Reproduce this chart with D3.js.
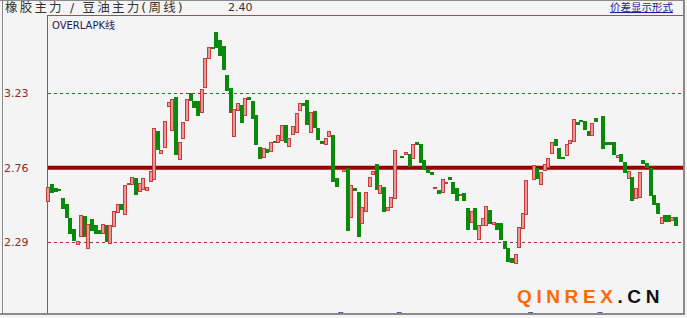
<!DOCTYPE html>
<meta charset="utf-8">
<style>
body { margin: 0; background: #f4f4f4; }
svg { display: block; font-family: "DejaVu Sans", "Noto Sans CJK SC", sans-serif; }
</style>
<body>
<svg id="chart" width="687" height="318"></svg>
</body>
<script src="https://cdn.jsdelivr.net/npm/d3@7/dist/d3.min.js"></script>
<script>
// weekly spread (rubber / soybean oil), one entry per week, null = no bar
var opens = [
  2.550, 2.655, 2.634, 2.627, 2.571, 2.529, 2.444, 2.377, 2.283, 2.331,
  2.457, 2.255, 2.440, 2.398, 2.367, 2.346, 2.398, 2.283, 2.394, 2.482,
  2.531, 2.465, 2.655, 2.655, 2.693, 2.615, 2.625, 2.619, 2.678, 2.693,
  2.993, 2.855, 2.892, 3.149, 2.998, 3.208, 2.815, 2.945, 3.061, 3.235,
  3.181, 3.181, 3.109, 3.267, 3.450, 3.519, 3.618, 3.565, 3.530, 3.345,
  3.265, 2.962, 3.120, 3.155, 3.092, 3.208, 3.181, 3.092, 2.892, 2.823,
  2.876, 2.865, 2.932, 2.924, 2.934, 3.033, 2.899, 2.970, 2.983, 3.124,
  3.166, 3.187, 2.983, 3.117, 3.014, 2.928, 2.909, 2.960, 2.970, 2.693,
  null,  2.739, 2.760, 2.451, 2.634, 2.609, 2.415, 2.489, 2.646, 2.718,
  2.781, 2.598, 2.640, 2.497, 2.514, 2.566, null,  2.836, 2.844, 2.844,
  2.819, 2.920, 2.907, 2.808, 2.752, 2.735, 2.634, 2.623, 2.609, 2.663,
  2.703, 2.672, 2.634, 2.585, 2.602, 2.508, 2.419, 2.508, 2.308, 2.398,
  2.398, 2.493, 2.402, 2.413, 2.413, 2.297, 2.257, 2.188, 2.163, 2.262,
  2.384, 2.472, null,  2.688, 2.756, 2.661, 2.752, 2.766, 2.857, 2.939,
  2.886, 2.825, 2.844, 2.913, 2.924, 3.050, 3.063, 3.056, 2.993, 2.966,
  3.077, null,  3.086, 2.924, 2.924, 2.924, 2.829, 2.850, 2.798, 2.697,
  2.703, 2.573, 2.577, 2.812, 2.791, 2.760, 2.587, 2.535, 2.415, 2.465,
  2.461, 2.426, 2.447
];
var closes = [
  2.636, 2.602, 2.615, 2.621, 2.508, 2.444, 2.352, 2.310, 2.299, 2.461,
  2.331, 2.405, 2.373, 2.346, 2.346, 2.405, 2.297, 2.398, 2.487, 2.531,
  2.497, 2.651, 2.661, 2.701, 2.594, 2.667, 2.693, 2.640, 2.741, 3.014,
  2.878, 2.871, 3.056, 3.172, 3.193, 2.850, 2.924, 3.046, 3.193, 3.191,
  3.145, 3.092, 3.254, 3.450, 3.519, 3.513, 3.523, 3.471, 3.387, 3.250,
  3.113, 3.134, 3.166, 3.050, 3.202, 3.193, 3.075, 2.907, 2.823, 2.882,
  2.855, 2.924, 2.924, 2.966, 3.029, 2.924, 2.949, 3.023, 3.103, 3.166,
  3.151, 3.035, 3.109, 3.019, 2.945, 2.913, 2.945, 2.991, 2.682, 2.640,
  null,  2.752, 2.371, 2.651, 2.623, 2.331, 2.514, 2.609, 2.703, 2.739,
  2.623, 2.651, 2.487, 2.514, 2.577, 2.871, null,  2.827, 2.857, 2.766,
  2.909, 2.907, 2.794, 2.752, 2.731, 2.724, 2.640, 2.604, 2.688, 2.672,
  2.688, 2.604, 2.556, 2.594, 2.556, 2.377, 2.489, 2.373, 2.398, 2.444,
  2.518, 2.409, 2.415, 2.373, 2.314, 2.251, 2.177, 2.161, 2.219, 2.388,
  2.478, 2.686, null,  2.777, 2.693, 2.735, 2.787, 2.823, 2.924, 2.899,
  2.825, 2.819, 2.913, 2.934, 3.065, 3.035, 3.056, 3.004, 2.970, 3.040,
  3.061, null,  2.882, 2.913, 2.913, 2.850, 2.840, 2.808, 2.735, 2.741,
  2.556, 2.634, 2.735, 2.791, 2.766, 2.592, 2.529, 2.472, 2.451, 2.430,
  2.426, 2.447, 2.394
];
var yTicks = [2.29, 2.76, 3.23];
var midLevel = 2.76;
var title = "橡胶主力 / 豆油主力(周线)";
var lastValue = "2.40";
var panelName = "OVERLAPK线";
var linkText = "价差显示形式";

var svg = d3.select("#chart");

var x = d3.scaleLinear().domain([0, opens.length - 1]).range([48.3, 676.1]);
var y = d3.scaleLinear().domain([2.29, 3.23]).range([242.3, 93.3]);

// frame
svg.append("rect").attr("width", 687).attr("height", 318).attr("fill", "#f4f4f4");
svg.append("line").attr("x1", 0).attr("x2", 685).attr("y1", 0.5).attr("y2", 0.5)
  .attr("stroke", "#8a8a8a").attr("stroke-width", 1);
svg.append("line").attr("x1", 2.5).attr("x2", 2.5).attr("y1", 0).attr("y2", 315)
  .attr("stroke", "#8a8a8a").attr("stroke-width", 1);
svg.append("line").attr("x1", 0).attr("x2", 685).attr("y1", 314).attr("y2", 314)
  .attr("stroke", "#8a8a8a").attr("stroke-width", 2);
svg.append("line").attr("x1", 684).attr("x2", 684).attr("y1", 0).attr("y2", 315)
  .attr("stroke", "#8a8a8a").attr("stroke-width", 2);

// panel box
svg.append("line").attr("x1", 47.5).attr("x2", 683).attr("y1", 15.5).attr("y2", 15.5)
  .attr("stroke", "#a05050").attr("stroke-width", 1);
svg.append("line").attr("x1", 47.5).attr("x2", 47.5).attr("y1", 15).attr("y2", 313)
  .attr("stroke", "#a05050").attr("stroke-width", 1);

// header texts
svg.append("text").attr("x", 5).attr("y", 12).attr("font-size", 12.5).attr("fill", "#333")
  .attr("letter-spacing", 2.2).text(title);
svg.append("text").attr("x", 228).attr("y", 11).attr("font-size", 11).attr("fill", "#333")
  .text(lastValue);
svg.append("text").attr("x", 610).attr("y", 11).attr("font-size", 10.5).attr("fill", "#1c1c9c")
  .attr("text-decoration", "underline").text(linkText);
svg.append("text").attr("x", 52).attr("y", 29).attr("font-size", 10).attr("fill", "#202050")
  .text(panelName);

// grid levels
svg.selectAll("line.grid").data(yTicks.filter(function (d) { return d !== midLevel; }))
  .enter().append("line").attr("class", "grid")
  .attr("x1", 48).attr("x2", 683)
  .attr("y1", function (d) { return Math.round(y(d)) + 0.5; })
  .attr("y2", function (d) { return Math.round(y(d)) + 0.5; })
  .attr("stroke", "#a03030").attr("stroke-dasharray", "3,3");

svg.append("line").attr("x1", 48).attr("x2", 683)
  .attr("y1", y(midLevel)).attr("y2", y(midLevel))
  .attr("stroke", "#990000").attr("stroke-width", 4);

// tick labels
svg.selectAll("text.tick").data(yTicks).enter().append("text").attr("class", "tick")
  .attr("x", 4).attr("y", function (d) { return y(d); })
  .attr("dy", "0.35em").attr("font-size", 11).attr("fill", "#8b2a2a")
  .text(function (d) { return d.toFixed(2); });

// candle bodies
var bars = opens.map(function (o, i) { return { i: i, o: o, c: closes[i] }; });

svg.selectAll("rect.bar").data(bars.filter(function (d) { return d.o !== null; }))
  .enter().append("rect").attr("class", "bar")
  .attr("x", function (d) { return Math.round(x(d.i)) - 1.5; })
  .attr("width", 3)
  .attr("y", function (d) { return Math.round(y(Math.max(d.o, d.c))) + 0.5; })
  .attr("height", function (d) { return Math.max(1, Math.round(Math.abs(y(d.o) - y(d.c)))); })
  .attr("fill", function (d) { return d.c >= d.o ? "#e49a9a" : "#0a8a0a"; })
  .attr("stroke", function (d) { return d.c >= d.o ? "#cc3a3a" : "#0a8a0a"; })
  .attr("stroke-width", 1);

// markers at missing weeks
svg.selectAll("line.gap").data(bars.filter(function (d) { return d.o === null; }))
  .enter().append("line").attr("class", "gap")
  .attr("x1", function (d) { return x(d.i) - 2; })
  .attr("x2", function (d) { return x(d.i) + 3; })
  .attr("y1", 312.5).attr("y2", 312.5)
  .attr("stroke", "#5a5aa8").attr("stroke-width", 1);

// watermark
var wm = svg.append("text").attr("x", 517).attr("y", 303)
  .attr("font-family", "'Liberation Sans', Arial, sans-serif")
  .attr("font-size", 19).attr("font-weight", "bold").attr("letter-spacing", 4.6);
wm.append("tspan").attr("fill", "#ff6a00").text("QINREX");
wm.append("tspan").attr("fill", "#111").text(".CN");
</script>
